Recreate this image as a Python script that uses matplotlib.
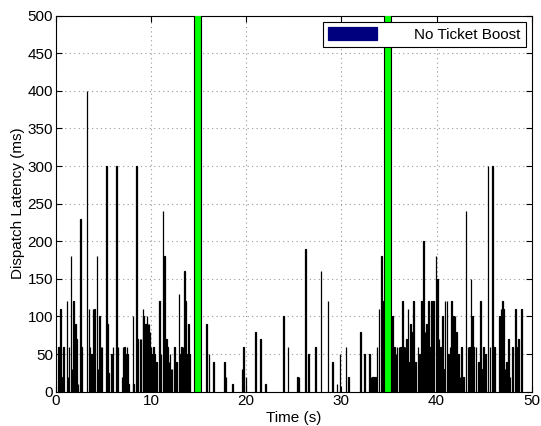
import numpy as np
import matplotlib.pyplot as plt

# dispatch latency spikes (time in s, latency in ms)
times = [0.3, 0.35, 0.5, 0.6, 0.8, 1.2, 1.3, 1.4, 1.6, 1.7, 1.9, 2.1, 2.2, 2.35, 2.6, 2.7,
         3.3, 3.5, 3.6, 3.75, 3.9, 4.1, 4.35, 4.45, 4.6, 4.75, 4.85,
         5.35, 5.45, 5.55, 5.85, 6.0, 6.4, 6.55, 6.95, 7.05, 7.2, 7.3, 7.4, 7.5, 7.55, 7.65,
         8.1, 8.2, 8.5, 8.6, 8.85, 8.95, 9.15, 9.25, 9.4, 9.5, 9.6, 9.7, 9.8, 9.9, 10.0, 10.05,
         10.25, 10.4, 10.6, 10.9, 11.05, 11.25, 11.45, 11.6, 11.75, 11.9, 12.0, 12.1, 12.2,
         12.45, 12.7, 12.95, 13.1, 13.2, 13.35, 13.5, 13.6, 13.75, 13.95, 14.05,
         15.85, 16.1, 16.6, 17.75, 17.9, 18.6, 19.55, 19.75, 20.0, 21.0, 21.5, 22.0, 23.9, 24.4,
         25.4, 25.55, 26.2, 26.55, 27.25, 27.85, 28.6, 29.1, 29.55, 29.85, 30.5, 30.75,
         32.0, 32.4, 32.95, 33.1, 33.25, 33.4, 33.6, 33.75, 33.95, 34.2, 34.35,
         35.35, 35.45, 35.6, 35.75, 35.85, 36.05, 36.2, 36.4, 36.55, 36.7, 36.85, 37.0, 37.15,
         37.25, 37.4, 37.6, 37.8, 38.05, 38.2, 38.45, 38.65, 38.8, 38.95, 39.15, 39.35, 39.5,
         39.7, 39.95, 40.1, 40.25, 40.4, 40.6, 40.75, 40.9, 41.1, 41.25, 41.4, 41.6, 41.75,
         41.95, 42.1, 42.3, 42.45, 42.6, 42.85, 43.1, 43.3, 43.45, 43.6, 43.75, 43.9, 44.15,
         44.4, 44.6, 44.75, 44.95, 45.15, 45.4, 45.6, 45.9, 46.1, 46.6, 46.75, 46.9, 47.05,
         47.2, 47.35, 47.55, 47.7, 48.0, 48.3, 48.5, 48.6, 48.9]
latency = [60, 30, 110, 20, 60, 120, 20, 60, 180, 30, 120, 90, 70, 10, 230, 60,
           400, 110, 60, 50, 110, 110, 180, 30, 100, 60, 60,
           300, 90, 25, 50, 60, 300, 60, 20, 60, 60, 50, 40, 60, 50, 10,
           100, 10, 300, 70, 70, 70, 110, 100, 90, 90, 100, 90, 90, 80, 60, 50,
           60, 50, 40, 120, 50, 240, 180, 70, 60, 40, 50, 30, 30,
           60, 40, 130, 50, 60, 60, 160, 120, 50, 90, 50,
           90, 50, 40, 40, 20, 10, 30, 60, 20, 80, 70, 10, 100, 60,
           20, 20, 190, 50, 60, 160, 120, 40, 10, 50, 60, 20,
           80, 50, 50, 20, 20, 20, 20, 60, 110, 180, 120,
           100, 30, 60, 50, 60, 60, 60, 120, 60, 60, 70, 110, 40,
           90, 80, 120, 40, 60, 50, 120, 200, 80, 90, 120, 60, 120,
           120, 180, 150, 70, 60, 100, 30, 120, 120, 50, 60, 120, 100,
           100, 80, 50, 20, 60, 20, 240, 60, 60, 150, 100, 60, 60,
           40, 120, 30, 60, 50, 300, 60, 300, 60, 100, 110, 120, 110,
           30, 40, 70, 20, 60, 110, 60, 70, 110]

boost_times = [14.9, 34.85]
boost_height = [1000, 1000]

plt.rcParams['font.family'] = ['Liberation Sans', 'DejaVu Sans']
plt.rcParams['font.size'] = 11

fig = plt.figure(figsize=(5.41, 4.26), dpi=100)
ax = fig.add_axes([0.103, 0.0805, 0.880, 0.883])

ax.bar(times, latency, width=0.07, color='#00007f', edgecolor='black',
       linewidth=0.9, label='No Ticket Boost', zorder=3)
ax.bar(boost_times, boost_height, width=0.75, color='#00ff00', edgecolor='black',
       linewidth=0.8, zorder=3)

ax.set_xlim(0, 50)
ax.set_ylim(0, 500)
ax.set_xticks(np.arange(0, 51, 10))
ax.set_yticks(np.arange(0, 501, 50))
ax.grid(True, linestyle=(0, (1, 3)), color='#999999', linewidth=0.8, zorder=0)
ax.tick_params(direction='in', top=True, right=True, length=4, pad=2)
for s in ax.spines.values():
    s.set_linewidth(0.8)

ax.set_xlabel('Time (s)', labelpad=2)
ax.set_ylabel('Dispatch Latency (ms)', labelpad=2)

leg = ax.legend(loc='upper right', fancybox=False, edgecolor='black',
                framealpha=1, handlelength=3.2, handleheight=0.9,
                borderaxespad=0.4, handletextpad=2.4, borderpad=0.35)
leg.get_frame().set_linewidth(0.8)
leg.legend_handles[0].set_edgecolor('#00007f')

fig.savefig('out.png', dpi=100)
